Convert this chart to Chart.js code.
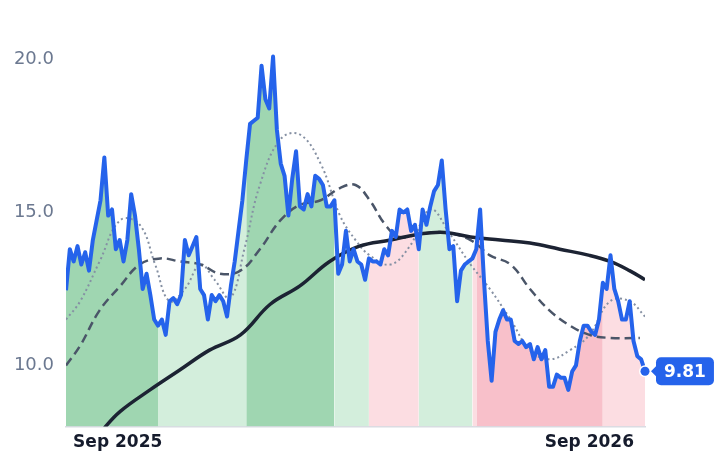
<!DOCTYPE html>
<html><head><meta charset="utf-8">
<script src="https://cdn.jsdelivr.net/npm/chart.js@4/dist/chart.umd.min.js"></script>
<style>html,body{margin:0;padding:0;background:#fff}#wrap{width:718px;height:464px}</style>
</head><body><div id="wrap"><canvas id="c"></canvas></div>
<script>
// Main series (roughly every 3 days from early Aug 2025)
const priceValues = [12.46,13.8,13.4,13.9,13.3,13.7,13.1,14.1,14.75,15.4,16.8,14.9,15.1,13.8,14.1,13.4,14.1,15.6,14.9,13.8,12.5,13.0,12.3,11.5,11.3,11.5,11.0,12.1,12.2,12.0,12.3,14.1,13.6,13.9,14.2,12.5,12.3,11.5,12.3,12.1,12.3,12.1,11.6,12.6,13.4,14.4,15.4,16.7,17.9,18.0,18.1,19.8,18.7,18.4,20.1,17.7,16.6,16.2,14.9,16.1,17.0,15.2,15.1,15.6,15.2,16.2,16.1,15.9,15.2,15.2,15.4,13.0,13.3,14.4,13.4,13.8,13.4,13.3,12.8,13.5,13.4,13.4,13.3,13.8,13.6,14.4,14.2,15.1,15.0,15.1,14.4,14.6,13.8,15.1,14.6,15.2,15.7,15.9,16.7,15.1,13.8,13.9,12.1,13.1,13.3,13.4,13.5,13.8,15.1,12.8,10.8,9.5,11.1,11.5,11.8,11.5,11.5,10.8,10.7,10.8,10.6,10.7,10.2,10.6,10.2,10.5,9.3,9.3,9.7,9.6,9.6,9.2,9.8,10.0,10.8,11.3,11.3,11.1,11.0,11.5,12.7,12.5,13.6,12.5,12.1,11.5,11.5,12.1,10.8,10.3,10.2,9.81];
const totalDays = 448;
// Moving averages: [day, value]
const shortMA = [[0,11.5],[11,12.1],[26,13.4],[42,14.75],[57,14.6],[69,13.3],[80,12.1],[92,12.5],[104,13.3],[115,12.8],[127,12.2],[138,13.8],[150,15.9],[166,17.4],[181,17.55],[197,16.6],[212,14.9],[224,14.1],[235,13.6],[251,13.3],[266,13.9],[282,15.1],[297,14.3],[313,13.3],[328,12.5],[344,11.5],[359,10.5],[374,10.2],[390,10.5],[405,11.0],[421,12.1],[436,12.1],[448,11.6]];
const midMA = [[0,10.0],[11,10.65],[26,11.8],[42,12.6],[57,13.3],[73,13.5],[88,13.4],[104,13.3],[119,13.0],[135,13.1],[150,13.8],[166,14.75],[181,15.25],[197,15.4],[212,15.8],[224,15.9],[235,15.4],[247,14.6],[258,14.2],[274,14.3],[293,14.35],[313,14.1],[328,13.6],[344,13.3],[359,12.5],[374,11.8],[390,11.3],[405,11.0],[421,10.9],[444,10.9]];
const longMA = [[22,7.5],[30,7.97],[42,8.5],[65,9.2],[88,9.85],[111,10.5],[135,11.0],[158,12.0],[181,12.6],[204,13.4],[227,13.9],[251,14.1],[274,14.3],[293,14.35],[313,14.2],[336,14.1],[359,14.0],[382,13.8],[405,13.6],[421,13.4],[436,13.1],[448,12.8]];
// Regime bands: [endDay, colour]
const bands = [[69,'#9fd6b1'],[137,'#d3eedc'],[206,'#9fd6b1'],[232,'#d3eedc'],[271,'#fcdde2'],[313,'#d3eedc'],[317,'#fcdde2'],[413,'#f8c0ca'],[449,'#fcdde2']];
const tickLabels = [[40,'Sep 2025'],[405,'Sep 2026']];
const yTicks = [10,15,20];

const step = totalDays/(priceValues.length-1);
const pricePts = priceValues.map((v,i)=>({x:i*step,y:v}));
const toPts = a=>a.map(([x,y])=>({x,y}));
function bandColor(d){for(const [e,c] of bands){if(d<e)return c;}return bands[bands.length-1][1];}

const badge = {id:'badge',afterDatasetsDraw(ch){
  const m=ch.getDatasetMeta(4); const p=m.data[m.data.length-1]; const c=ch.ctx;
  const v=priceValues[priceValues.length-1].toFixed(2);
  c.save();
  c.beginPath();c.arc(p.x,p.y,6,0,Math.PI*2);c.fillStyle='#fff';c.fill();
  c.beginPath();c.arc(p.x,p.y,4.5,0,Math.PI*2);c.fillStyle='#2563eb';c.fill();
  c.font='bold 17px "DejaVu Sans"';const w=c.measureText(v).width+16;
  const x=p.x+11,y=p.y-14,h=28;
  c.fillStyle='#2563eb';c.beginPath();c.roundRect(x,y,w,h,5);c.fill();
  c.beginPath();c.moveTo(x,p.y-5);c.lineTo(x-5,p.y);c.lineTo(x,p.y+5);c.fill();
  c.fillStyle='#fff';c.textBaseline='middle';c.fillText(v,x+8,p.y+1);
  c.restore();}};

new Chart(document.getElementById('c'),{
  type:'line',
  data:{datasets:[
    {data:pricePts,borderWidth:0,pointRadius:0,fill:'start',tension:0,
     segment:{backgroundColor:ctx=>bandColor(ctx.p0.parsed.x)},order:5},
    {data:toPts(shortMA),borderColor:'#8590a3',borderWidth:2,borderDash:[2,3],pointRadius:0,tension:0.4,fill:false,order:4},
    {data:toPts(midMA),borderColor:'#4a5568',borderWidth:2.5,borderDash:[9,5],pointRadius:0,tension:0.4,fill:false,order:3},
    {data:toPts(longMA),borderColor:'#1c2333',borderWidth:3.5,pointRadius:0,tension:0.4,fill:false,order:2},
    {data:pricePts,borderColor:'#2563eb',borderWidth:4,pointRadius:0,tension:0,fill:false,order:1,borderJoinStyle:'round'}
  ]},
  options:{responsive:true,maintainAspectRatio:false,animation:false,
    layout:{padding:{top:29,right:73,left:0,bottom:5}},
    plugins:{legend:{display:false},tooltip:{enabled:false}},
    scales:{
      x:{type:'linear',min:0,max:totalDays,grid:{display:false,drawTicks:false},border:{color:'#d7dbe2',width:1.5},
        afterBuildTicks:a=>{a.ticks=tickLabels.map(t=>({value:t[0]}));},
        ticks:{autoSkip:false,maxRotation:0,padding:6,color:'#151b2c',font:{family:'DejaVu Sans',size:17,weight:'bold'},
          callback:v=>{const t=tickLabels.find(t=>t[0]===v);return t?t[1]:'';}}},
      y:{min:8,max:21,grid:{display:false,drawTicks:false},border:{display:false},
        afterBuildTicks:a=>{a.ticks=yTicks.map(v=>({value:v}));},
        afterFit:s=>{s.width=66;},
        ticks:{padding:12,color:'#6b7890',font:{family:'DejaVu Sans',size:18},callback:v=>v.toFixed(1)}}
    }},
  plugins:[badge]
});
</script></body></html>
